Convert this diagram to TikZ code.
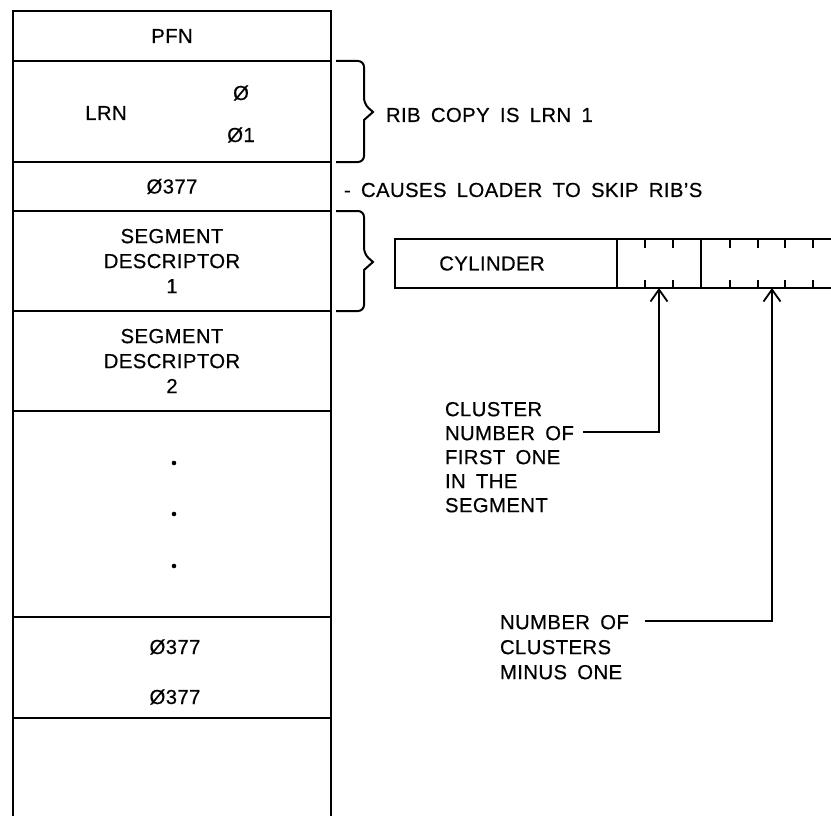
\documentclass[tikz,border=0pt]{standalone}
\usepackage{fontspec}
\setmainfont{Liberation Sans}[WordSpace=1.7,LetterSpace=2,FakeBold=0.5]
\usetikzlibrary{arrows.meta}
\begin{document}
\begin{tikzpicture}[x=1pt,y=-1pt,
  txt/.style={font=\fontsize{20.3}{25}\selectfont, inner sep=0pt, outer sep=0pt},
  cell/.style={txt,draw,line width=2.2pt,minimum width=318pt,align=center},
  fld/.style={txt,draw,line width=1.8pt,minimum height=49pt},
  brace/.style={line width=2pt,rounded corners=6pt},
  tick/.style={line width=1.8pt},
  arr/.style={line width=1.8pt,-{Straight Barb[length=12pt,width=17pt,line width=1.8pt]}},
]
\useasboundingbox (0,0) rectangle (831,816);
% ---- main column ----
\node[cell,minimum height=50pt]  (pfn)  at (172,36)    {PFN};
\node[cell,minimum height=101pt] (lrnc) at (172,111.5) {};
\node[cell,minimum height=49pt]  (skip) at (172,186.5) {Ø377};
\node[cell,minimum height=100pt] (sd1)  at (172,261)   {SEGMENT\\DESCRIPTOR\\1};
\node[cell,minimum height=100pt] (sd2)  at (172,361)   {SEGMENT\\DESCRIPTOR\\2};
\node[cell,minimum height=206pt] (dots) at (172,514)   {};
\node[cell,minimum height=101pt] (end)  at (172,667.5) {};
\draw[line width=2.2pt] (end.south west) -- ++(0,100);
\draw[line width=2.2pt] (end.south east) -- ++(0,100);
\node[txt] (lrn) at (106,113) {LRN};
\node[txt] (z0)  at (241,93)  {Ø};
\node[txt] (z1)  at (241,135) {Ø1};
\fill (174,463) circle (2.3pt);
\fill (174,514) circle (2.3pt);
\fill (174,566) circle (2.3pt);
\node[txt] (e1) at (175,647) {Ø377};
\node[txt] (e2) at (175,697) {Ø377};
% ---- braces and remarks ----
\draw[brace] (lrnc.north east) ++(5,0) -- (364,61) -- (364,104) [sharp corners] -- (373,112) -- (364,120) [rounded corners=6pt] -- (364,162) -- (336,162);
\node[txt,anchor=west] (rib) at (386,115) {RIB COPY IS LRN 1};
\node[txt,anchor=west] (cause) at (344,190) {- CAUSES LOADER TO SKIP RIB'S};
\draw[brace] (sd1.north east) ++(5,0) -- (364,211) -- (364,254) [sharp corners] -- (373,262) -- (364,270) [rounded corners=6pt] -- (364,311) -- (336,311);
% ---- segment descriptor word ----
\node[fld,minimum width=222pt] (cyl) at (506,263.5) {\hspace*{-28pt}CYLINDER};
\node[fld,minimum width=84pt]  (cnum) at (659,263.5) {};
\draw[line width=1.8pt] (cnum.north east) -- (831,239);
\draw[line width=1.8pt] (cnum.south east) -- (831,288);
\foreach \x in {645,673,730,758,785,813} {
  \draw[tick] (\x,239) -- (\x,248);
  \draw[tick] (\x,288) -- (\x,280);
}
\coordinate (a1) at (659,288);
\coordinate (a2) at (772,288);
% ---- explanations ----
\node[txt,anchor=north west,align=left,font=\fontsize{20.3}{24}\selectfont] (first) at (445,402)
  {CLUSTER\\NUMBER OF\\FIRST ONE\\IN THE\\SEGMENT};
\node[txt,anchor=north west,align=left] (count) at (500,615)
  {NUMBER OF\\CLUSTERS\\MINUS ONE};
\coordinate (s1) at (583,432);
\coordinate (s2) at (645,621);
\draw[arr] (s1) -| (a1);
\draw[arr] (s2) -| (a2);
\end{tikzpicture}
\end{document}
